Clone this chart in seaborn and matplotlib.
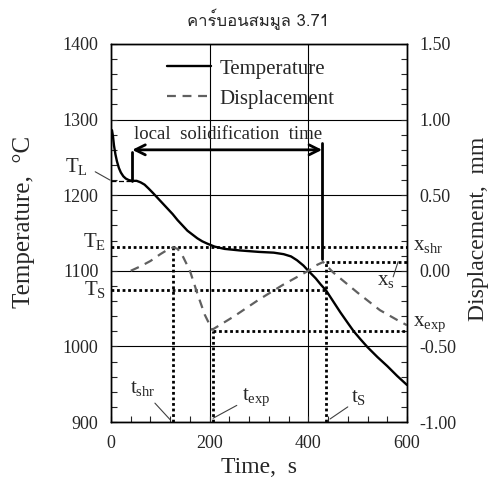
import matplotlib
matplotlib.use('Agg')
import matplotlib.pyplot as plt
import seaborn as sns
from matplotlib import font_manager
from matplotlib.ft2font import FT2Font
from matplotlib.lines import Line2D
from matplotlib.ticker import MultipleLocator, FormatStrFormatter

# Temperature curve (s, deg C)
time_temp = [0, 2, 4, 6, 9, 12, 16, 20, 25, 30, 36, 43, 52, 60, 68, 76, 85, 95, 105,
             115, 125, 135, 145, 155, 165, 175, 185, 195, 210, 230, 260, 300, 330, 350,
             365, 377, 390, 400, 415, 425, 436, 450, 465, 480, 492, 505, 520, 540, 560,
             580, 600]
temperature = [1284, 1286, 1278, 1266, 1254, 1245, 1236, 1230, 1225, 1222, 1220, 1219,
               1219, 1217, 1214, 1209, 1203, 1196, 1189, 1182, 1175, 1167, 1160, 1153,
               1148, 1143, 1139, 1136, 1132, 1129, 1127, 1125, 1124, 1122, 1119, 1114,
               1107, 1100, 1090, 1082, 1074, 1060, 1045, 1031, 1020, 1010, 999, 986,
               974, 961, 949]

# Displacement curve (s, mm)
time_disp = [40, 60, 80, 100, 115, 126, 135, 145, 160, 175, 190, 205, 250, 300, 350,
             400, 415, 430, 450, 500, 545, 580, 600]
displacement = [0.0, 0.03, 0.065, 0.11, 0.14, 0.155, 0.145, 0.10, 0.0, -0.15, -0.29,
                -0.39, -0.30, -0.19, -0.09, 0.0, 0.035, 0.058, -0.01, -0.145, -0.26,
                -0.325, -0.36]

# Characteristic points
t_liq, T_liq = 43, 1219
t_end = 428
t_shr, t_exp, t_sol = 126, 207, 436
T_E, T_S = 1131, 1075
x_s, x_exp = 0.06, -0.40

title = 'คาร์บอนสมมูล 3.71'


def find_thai_font():
    for f in font_manager.fontManager.ttflist:
        try:
            if FT2Font(f.fname).get_char_index(ord('ค')):
                return f.name
        except Exception:
            continue
    return 'DejaVu Sans'


sns.set_style('ticks')
plt.rcParams['font.family'] = ['Liberation Serif', 'DejaVu Serif']
plt.rcParams['mathtext.fontset'] = 'custom'
plt.rcParams['mathtext.rm'] = 'Liberation Serif'
plt.rcParams['mathtext.it'] = 'Liberation Serif:italic'
plt.rcParams['axes.unicode_minus'] = False

fig = plt.figure(figsize=(4.92, 4.91), dpi=100)
ax = fig.add_axes([0.2256, 0.1405, 0.6016, 0.7699])
ax2 = ax.twinx()

# curves
sns.lineplot(x=time_temp, y=temperature, ax=ax, color='black', lw=1.7, sort=False)
sns.lineplot(x=time_disp, y=displacement, ax=ax2, color='#606060', lw=1.6,
             dashes=False, sort=False)
ax2.lines[0].set_dashes((4, 3))

ax.set_xlim(0, 600)
ax.set_ylim(900, 1400)
ax2.set_ylim(-1.0, 1.5)

ax.xaxis.set_major_locator(MultipleLocator(200))
ax.xaxis.set_minor_locator(MultipleLocator(40))
ax.yaxis.set_major_locator(MultipleLocator(100))
ax.yaxis.set_minor_locator(MultipleLocator(20))
ax2.yaxis.set_major_locator(MultipleLocator(0.5))
ax2.yaxis.set_minor_locator(MultipleLocator(0.1))
ax2.yaxis.set_major_formatter(FormatStrFormatter('%.2f'))

ax.grid(True, which='major', color='black', lw=0.8)
for a in (ax, ax2):
    for s in a.spines.values():
        s.set_linewidth(1.0)
        s.set_color('black')
ax.tick_params(which='both', direction='in', length=4.5, width=0.8, top=False,
               right=False, labelsize=13, pad=9)
ax2.tick_params(which='both', direction='in', length=4.5, width=0.8, labelsize=13, pad=9)

# dotted guide lines
dot = dict(color='black', lw=2, linestyle=(0, (1, 1)))
ax.plot([0, 600], [T_E, T_E], **dot)
ax.plot([0, t_sol], [T_S, T_S], **dot)
ax.plot([t_shr, t_shr], [900, T_E], **dot)
ax2.plot([t_sol, 600], [x_s, x_s], **dot)
ax2.plot([t_sol, t_sol], [-1.0, x_s], **dot)
ax2.plot([t_exp, 600], [x_exp, x_exp], **dot)
ax2.plot([t_exp, t_exp], [-1.0, x_exp], **dot)

# liquidus marker and local solidification time
ax.plot([0, t_liq], [T_liq, T_liq], color='black', lw=0.9, linestyle=(0, (4, 2)))
ax.plot([t_liq, t_liq], [1257, T_liq], color='black', lw=2)
ax.plot([t_end, t_end], [1269, 1116], color='black', lw=2)
ax.annotate('', xy=(t_liq, 1260), xytext=(t_end, 1260),
            arrowprops=dict(arrowstyle='<->', lw=2, color='black',
                            shrinkA=0, shrinkB=0, mutation_scale=18))
ax.text(47, 1274, 'local  solidification  time', fontsize=13.5, ha='left', va='baseline')

# point labels
lab = dict(fontsize=15, va='baseline')
ax.text(-46, 1231, r'T$_{\rm L}$', ha='right', **lab)
ax.text(-10, 1131, r'T$_{\rm E}$', ha='right', **lab)
ax.text(-10, 1068, r'T$_{\rm S}$', ha='right', **lab)
ax.text(612, 1128, r'x$_{\rm shr}$', ha='left', **lab)
ax.text(612, 1027, r'x$_{\rm exp}$', ha='left', **lab)
ax.text(539, 1081, r'x$_{\rm s}$', ha='left', **lab)
ax.text(38, 938, r't$_{\rm shr}$', ha='left', **lab)
ax.text(265, 929, r't$_{\rm exp}$', ha='left', **lab)
ax.text(486, 926, r't$_{\rm S}$', ha='left', **lab)

lead = dict(color='#404040', lw=0.8, clip_on=False)
ax.plot([-32, -2], [1231, 1220], **lead)
ax.plot([572, 582], [1092, 1112], **lead)
ax.plot([89, 120], [925, 903], **lead)
ax.plot([255, 207], [922, 905], **lead)
ax.plot([480, 444], [920, 904], **lead)

# legend
handles = [Line2D([], [], color='black', lw=1.7),
           Line2D([], [], color='#606060', lw=1.6, dashes=(4, 3))]
ax2.legend(handles, ['Temperature', 'Displacement'], loc='upper left',
           bbox_to_anchor=(0.19, 0.96), frameon=False, fontsize=15, borderpad=0,
           borderaxespad=0, handlelength=2.1, handletextpad=0.4, labelspacing=0.5)

ax.set_xlabel('Time,  s', fontsize=17)
ax.set_ylabel('Temperature,  °C', fontsize=18)
ax.yaxis.set_label_coords(-0.257, 0.53)
ax2.set_ylabel('Displacement,  mm', fontsize=17)
ax2.yaxis.set_label_coords(1.205, 0.51)

fig.text(258 / 492, 1 - 20 / 491, title, family=[find_thai_font(), 'DejaVu Sans'],
         fontsize=12, ha='center', va='center')

plt.savefig('out.png', dpi=100)
